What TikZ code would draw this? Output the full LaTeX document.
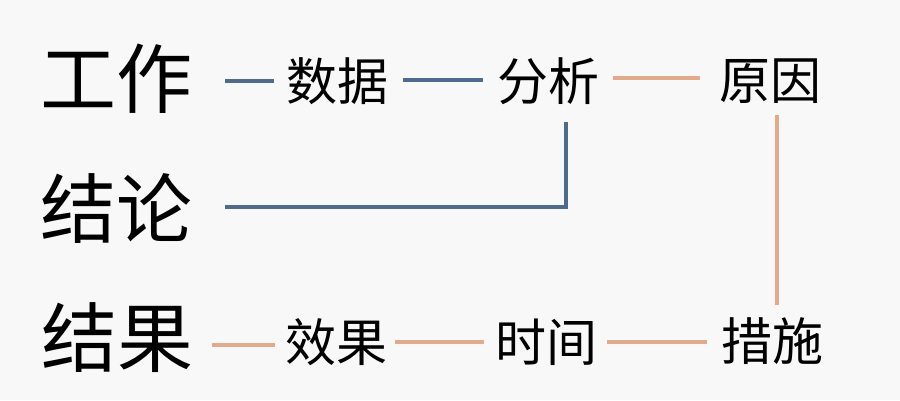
\documentclass[tikz,border=0pt]{standalone}
\usepackage{fontspec}
\newfontfamily\cjk{Noto Sans CJK SC}
\definecolor{bgc}{HTML}{F8F8F8}
\definecolor{bluel}{HTML}{4E6A8C}
\definecolor{orangel}{HTML}{E2AA8A}
\begin{document}
\begin{tikzpicture}[x=1pt,y=-1pt,
  big/.style={inner sep=0pt,font=\cjk\fontsize{76}{80}\selectfont},
  small/.style={inner sep=0pt,font=\cjk\fontsize{51}{56}\selectfont},
  bl/.style={draw=bluel,line width=4pt},
  ol/.style={draw=orangel,line width=4pt}]
\fill[bgc] (0,0) rectangle (900,400);
\useasboundingbox (0,0) rectangle (900,400);
\node[big] (gz) at (116,79) {工作};
\node[big] (jl) at (116,208) {结论};
\node[big] (jg) at (117.5,338) {结果};
\node[small] (sj) at (337,81) {数据};
\node[small] (fx) at (548,81) {分析};
\node[small] (yy) at (770,81) {原因};
\node[small] (xg) at (336.5,342) {效果};
\node[small] (sw) at (546,342) {时间};
\node[small] (cs) at (772,341.5) {措施};
% blue connectors
\draw[bl] (gz.east -| 225,0) ++(0,2) -- ([xshift=-12pt,yshift=0pt]sj.west);
\draw[bl] (403,80) coordinate (b1) -- (483,80) coordinate (b2);
\draw[bl] (jl.east -| 225,0) ++(0,-1) -- (566,207) -- (566,122);
% orange connectors
\draw[ol] (613,78) -- (700,78);
\draw[ol] (777,115) -- (777,305);
\draw[ol] (212,345) -- (275,345);
\draw[ol] (395,342) -- (484,342);
\draw[ol] (607,342) -- (707,342);
\end{tikzpicture}
\end{document}
